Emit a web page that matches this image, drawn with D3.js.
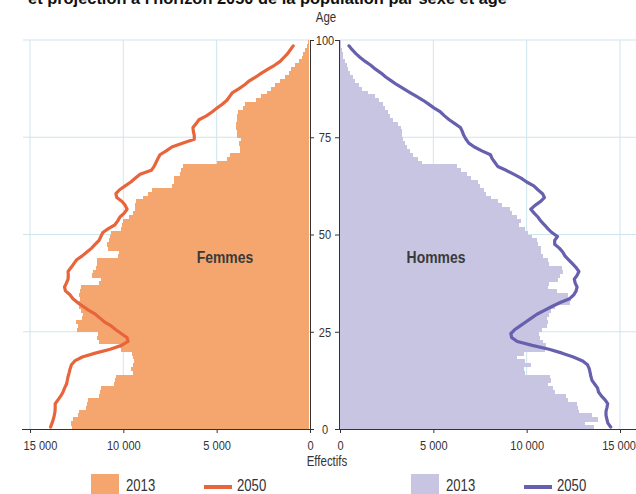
<!DOCTYPE html>
<html>
<head>
<meta charset="utf-8">
<script src="https://cdn.jsdelivr.net/npm/d3@7"></script>
<style>
  body { margin: 0; background: #fff; }
  svg { display: block; font-family: "Liberation Sans", Arial, sans-serif; }
</style>
</head>
<body>
<div id="chart"></div>
<script>
// effectifs par âge (0 à 99 ans)
const femmes2013 = [
  12750, 12800, 12700, 12450, 12400, 12000, 11950, 11900, 11300, 11250,
  11200, 10500, 10450, 10400, 9500, 9600, 9500, 9450, 9500, 9550,
  10100, 10200, 11300, 11400, 11350, 12500, 12450, 12550, 12200, 12150,
  12250, 12400, 12450, 12300, 12350, 12300, 12250, 11300, 11200, 11700,
  11650, 11450, 11400, 11400, 10300, 10250, 10800, 10850, 10750, 10700,
  10650, 10100, 10050, 10000, 9700, 9500, 9400, 9350, 9300, 8950,
  8700, 8450, 7400, 7300, 7300, 6950, 6900, 6800, 4980, 4450,
  4290, 3750, 3750, 3800, 3700, 3900, 3900, 3950, 3950, 3900,
  3900, 3850, 3600, 3500, 2900, 2600, 2300, 2100, 1850, 1600,
  1350, 1150, 1000, 800, 600, 450, 350, 250, 180, 120
];
const hommes2013 = [
  13600, 13100, 13800, 13500, 12800, 12750, 12700, 12200, 12100, 11500,
  11400, 11130, 11300, 11250, 9900, 9850, 10250, 9900, 9500, 9850,
  11000, 11020, 10900, 10700, 10650, 10800, 11100, 11150, 11100, 11200,
  11300, 11500, 12300, 12350, 12200, 11650, 11150, 11200, 11700, 11800,
  11950, 11900, 11200, 11150, 10900, 10750, 10750, 10600, 10550, 10300,
  10050, 9900, 9600, 9680, 9500, 9200, 9100, 8700, 8450, 8100,
  7800, 7700, 7500, 7400, 7000, 6800, 6500, 6270, 4400, 4200,
  3900, 3760, 3600, 3500, 3400, 3320, 3300, 3250, 3100, 2850,
  2700, 2550, 2400, 2300, 2100, 1900, 1500, 1200, 1000, 800,
  700, 550, 450, 350, 250, 180, 140, 100, 70, 40
];
// projection 2050 (0 à 98 ans)
const femmes2050 = [
  13900, 13820, 13750, 13700, 13660, 13650, 13650, 13500, 13350, 13230,
  13150, 13050, 13000, 12960, 12900, 12850, 12780, 12600, 12200, 11500,
  10700, 10100, 9750, 9800, 10100, 10400, 10650, 11000, 11250, 11500,
  11850, 12150, 12450, 12700, 12860, 13100, 13150, 13050, 12960, 12950,
  12960, 12800, 12650, 12500, 12200, 11950, 11700, 11500, 11300, 11200,
  11100, 10800, 10450, 10300, 10180, 9950, 9800, 9900, 10070, 10350,
  10400, 10200, 9900, 9600, 9350, 9100, 8500, 8350, 8250, 8150,
  8040, 7700, 7400, 6800, 6200, 6200, 6250, 6270, 6100, 5950,
  5550, 5250, 4980, 4700, 4450, 4300, 4150, 3800, 3500, 3250,
  2900, 2600, 2250, 1900, 1600, 1400, 1200, 1050, 900
];
const hommes2050 = [
  14500, 14350, 14300, 14250, 14250, 14300, 14340, 14200, 14000, 13850,
  13800, 13650, 13500, 13440, 13400, 13350, 13260, 13000, 12500, 11900,
  11200, 10300, 9500, 9200, 9150, 9350, 9650, 9950, 10250, 10550,
  10950, 11350, 11800, 12300, 12530, 12650, 12700, 12600, 12550, 12700,
  12800, 12650, 12450, 12250, 12050, 11930, 11750, 11500, 11500, 11650,
  11350, 11130, 10950, 10750, 10600, 10400, 10220, 10450, 10750, 10950,
  10850, 10600, 10380, 10000, 9700, 9300, 8900, 8450, 8300, 8150,
  8060, 7600, 7200, 6900, 6750, 6630, 6550, 6450, 6150, 5850,
  5600, 5380, 5050, 4750, 4450, 4100, 3750, 3400, 3050, 2750,
  2450, 2200, 1900, 1650, 1350, 1080, 850, 650, 480
];
const ageTicks = [0, 25, 50, 75, 100];
const effTicks = [0, 5000, 10000, 15000];
const gridEff = [5000, 10000, 15000];
const gridAge = [25, 50, 75, 100];

const width = 636;
const height = 494;
const colF = "#f4a66e", colFline = "#e8643a";
const colH = "#c7c5e2", colHline = "#6660ae";
const gridCol = "#cfe5ee";

const svg = d3.select("#chart").append("svg")
  .attr("width", width)
  .attr("height", height);

const y = d3.scaleLinear().domain([0, 100]).range([429, 40]);
const xL = d3.scaleLinear().domain([0, 15000]).range([310, 30]);
const xR = d3.scaleLinear().domain([0, 15000]).range([340, 620]);

const fr = d3.formatLocale({ decimal: ",", thousands: " ", grouping: [3], currency: ["", " €"] });
const fmt = fr.format(",d");

// the source uses a condensed face: squeeze texts around their anchor
function narrow(sel) {
  sel.attr("transform", function() {
    const x = +this.getAttribute("x") || 0;
    return `translate(${x},0) scale(0.82,1) translate(${-x},0)`;
  });
}

// title, cut by the top edge
svg.append("text")
  .attr("x", 28).attr("y", 3.5)
  .attr("font-size", 17).attr("font-weight", "bold").attr("fill", "#111")
  .attr("textLength", 479).attr("lengthAdjust", "spacingAndGlyphs")
  .text("et projection à l'horizon 2050 de la population par sexe et âge");

// grid
const grid = svg.append("g").attr("stroke", gridCol).attr("stroke-width", 1);
grid.selectAll(".gl").data(gridEff).join("line")
  .attr("x1", d => xL(d)).attr("x2", d => xL(d))
  .attr("y1", y(100)).attr("y2", y(0));
grid.selectAll(".gr").data(gridEff).join("line")
  .attr("x1", d => xR(d)).attr("x2", d => xR(d))
  .attr("y1", y(100)).attr("y2", y(0));
grid.selectAll(".hl").data(gridAge).join("line")
  .attr("x1", 23).attr("x2", xL(0))
  .attr("y1", d => y(d)).attr("y2", d => y(d));
grid.selectAll(".hr").data(gridAge).join("line")
  .attr("x1", xR(0)).attr("x2", width)
  .attr("y1", d => y(d)).attr("y2", d => y(d));

// bars 2013
svg.append("g").attr("fill", colF).attr("shape-rendering", "crispEdges")
  .selectAll("rect").data(femmes2013).join("rect")
    .attr("x", d => xL(d))
    .attr("width", d => xL(0) - xL(d) - 1)
    .attr("y", (d, i) => y(i + 1))
    .attr("height", (d, i) => y(i) - y(i + 1) + 0.5);

svg.append("g").attr("fill", colH).attr("shape-rendering", "crispEdges")
  .selectAll("rect").data(hommes2013).join("rect")
    .attr("x", xR(0))
    .attr("width", d => xR(d) - xR(0))
    .attr("y", (d, i) => y(i + 1))
    .attr("height", (d, i) => y(i) - y(i + 1) + 0.5);

// lines 2050
svg.append("path")
  .datum(femmes2050)
  .attr("fill", "none").attr("stroke", colFline).attr("stroke-width", 3.2)
  .attr("stroke-linejoin", "round").attr("stroke-linecap", "round")
  .attr("d", d3.line().x(d => xL(d)).y((d, i) => y(i + 0.5)));

svg.append("path")
  .datum(hommes2050)
  .attr("fill", "none").attr("stroke", colHline).attr("stroke-width", 3.2)
  .attr("stroke-linejoin", "round").attr("stroke-linecap", "round")
  .attr("d", d3.line().x(d => xR(d)).y((d, i) => y(i + 0.5)));

// axes
const axisCol = "#333";
function styleAxis(g) {
  g.select(".domain").remove();
  g.selectAll("line").attr("stroke", axisCol);
  g.selectAll("text").attr("fill", "#333").attr("font-size", 13.5);
}

svg.append("g")
  .attr("transform", `translate(${xL(0)},0)`)
  .call(d3.axisRight(y).tickValues(ageTicks).tickSize(4).tickFormat(""))
  .call(styleAxis);
svg.append("g")
  .attr("transform", `translate(${xR(0) - 1},0)`)
  .call(d3.axisLeft(y).tickValues(ageTicks).tickSize(4))
  .call(styleAxis)
  .call(g => g.selectAll("text").attr("text-anchor", "middle").attr("x", -14).call(narrow));

svg.append("line").attr("stroke", axisCol)
  .attr("x1", xL(0) + 0.5).attr("x2", xL(0) + 0.5).attr("y1", y(100)).attr("y2", y(0));
svg.append("line").attr("stroke", axisCol)
  .attr("x1", xR(0) - 0.5).attr("x2", xR(0) - 0.5).attr("y1", y(100)).attr("y2", y(0));

svg.append("g")
  .attr("transform", `translate(0,${y(0)})`)
  .call(d3.axisBottom(xL).tickValues(effTicks).tickSize(4).tickPadding(7).tickFormat(fmt))
  .call(styleAxis)
  .call(g => g.selectAll(".tick").filter(d => d === 15000).select("text")
    .attr("text-anchor", "start").attr("x", -7))
  .call(g => g.selectAll("text").call(narrow));
svg.append("g")
  .attr("transform", `translate(0,${y(0)})`)
  .call(d3.axisBottom(xR).tickValues(effTicks).tickSize(4).tickPadding(7).tickFormat(fmt))
  .call(styleAxis)
  .call(g => g.selectAll(".tick").filter(d => d === 15000).select("text")
    .attr("text-anchor", "end").attr("x", 15.5))
  .call(g => g.selectAll("text").call(narrow));

svg.append("line").attr("stroke", axisCol)
  .attr("x1", 22).attr("x2", xL(0) + 4).attr("y1", y(0) + 0.5).attr("y2", y(0) + 0.5);
svg.append("line").attr("stroke", axisCol)
  .attr("x1", xR(0) - 4).attr("x2", width).attr("y1", y(0) + 0.5).attr("y2", y(0) + 0.5);

svg.append("text")
  .attr("x", 326).attr("y", 22).attr("text-anchor", "middle")
  .attr("font-size", 14).attr("fill", "#333").text("Age").call(narrow);
svg.append("text")
  .attr("x", 327).attr("y", 466).attr("text-anchor", "middle")
  .attr("font-size", 14).attr("fill", "#333").text("Effectifs").call(narrow);

// labels in bars
svg.append("text")
  .attr("x", 225).attr("y", 263).attr("text-anchor", "middle")
  .attr("font-size", 17).attr("font-weight", "bold").attr("fill", "#3a3a3a")
  .text("Femmes").call(narrow);
svg.append("text")
  .attr("x", 436).attr("y", 263).attr("text-anchor", "middle")
  .attr("font-size", 17).attr("font-weight", "bold").attr("fill", "#3a3a3a")
  .text("Hommes").call(narrow);

// legend
const legend = [
  { x: 91, type: "rect", color: colF, label: "2013" },
  { x: 204, type: "line", color: colFline, label: "2050" },
  { x: 411, type: "rect", color: colH, label: "2013" },
  { x: 524, type: "line", color: colHline, label: "2050" }
];
const lg = svg.append("g").selectAll("g").data(legend).join("g")
  .attr("transform", d => `translate(${d.x},0)`);
lg.filter(d => d.type === "rect").append("rect")
  .attr("x", 0).attr("y", 474).attr("width", 28).attr("height", 24)
  .attr("fill", d => d.color);
lg.filter(d => d.type === "line").append("line")
  .attr("x1", 0).attr("x2", 28).attr("y1", 487).attr("y2", 487)
  .attr("stroke", d => d.color).attr("stroke-width", 4);
lg.append("text")
  .attr("x", d => d.type === "rect" ? 35 : 33).attr("y", 491.5)
  .attr("font-size", 16).attr("fill", "#333")
  .text(d => d.label).call(narrow);
</script>
</body>
</html>
